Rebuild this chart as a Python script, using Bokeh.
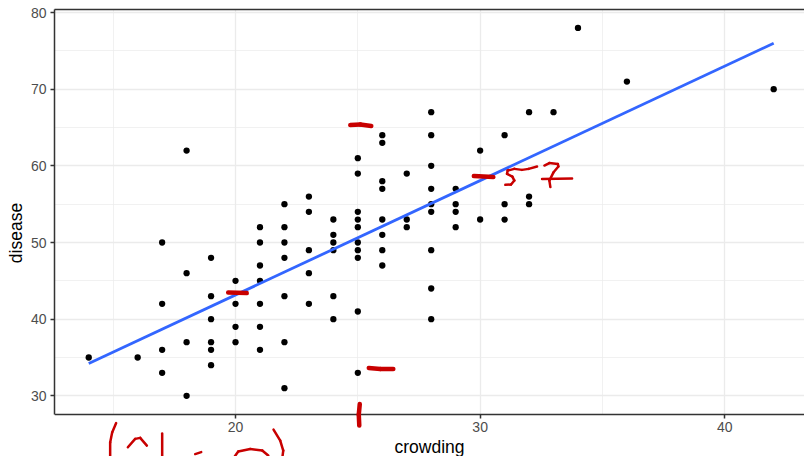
import numpy as np
from bokeh.plotting import figure
from bokeh.models import FixedTicker, LinearAxis, Range1d, Arrow, ColumnDataSource, BoxAnnotation
from bokeh.embed import file_html
from bokeh.resources import INLINE

# ---------------- data ----------------
crowding = [14,
            16,
            17, 17, 17, 17,
            18, 18, 18, 18,
            19, 19, 19, 19, 19, 19,
            20, 20, 20, 20,
            21, 21, 21, 21, 21, 21, 21,
            22, 22, 22, 22, 22, 22, 22,
            23, 23, 23, 23, 23,
            24, 24, 24, 24, 24, 24,
            25, 25, 25, 25, 25, 25, 25, 25, 25, 25,
            26, 26, 26, 26, 26, 26, 26, 26,
            27, 27, 27,
            28, 28, 28, 28, 28, 28, 28, 28, 28,
            29, 29, 29, 29,
            30, 30,
            31, 31, 31,
            32, 32, 32,
            33,
            34,
            36,
            42]
disease = [35,
           35,
           50, 42, 36, 33,
           62, 46, 37, 30,
           48, 43, 40, 37, 36, 34,
           45, 42, 39, 37,
           52, 50, 47, 45, 42, 39, 36,
           55, 52, 50, 48, 43, 37, 31,
           56, 54, 49, 46, 42,
           53, 51, 50, 49, 43, 40,
           61, 59, 54, 53, 52, 50, 49, 48, 41, 33,
           64, 63, 58, 57, 53, 51, 49, 47,
           59, 53, 52,
           67, 64, 60, 57, 55, 54, 49, 44, 40,
           57, 55, 54, 52,
           62, 53,
           64, 55, 53,
           67, 56, 55,
           67,
           78,
           71,
           70]

x_ticks = [20, 30, 40]
x_minor = [15, 25, 35]
y_ticks = [30, 40, 50, 60, 70, 80]
y_minor = [35, 45, 55, 65, 75]

# hand-drawn red pen marks on the reference (reference pixel positions)
pen_thick = [
    [(350, 124.5), (360, 124), (371, 125.5)],
    [(228, 292), (246.5, 292.5)],
    [(473.5, 175.5), (493, 176.5)],
    [(368.5, 367.5), (380, 368.5), (393, 368.5)],
    [(359.5, 403.5), (358.5, 414), (359, 425)],
]
pen_thin = [
    [(505, 184.3), (510.7, 184), (514, 180), (512, 176), (506.7, 173.3),
     (507.3, 170), (514, 168.3), (521.7, 169.3), (528.3, 168.3), (536.7, 166)],
    [(544, 165), (549, 162.5), (557.5, 163.5), (558, 166), (553, 172),
     (549, 180), (550, 186.5)],
    [(541.7, 178.5), (571.7, 178)],
    [(116, 422.5), (112, 432), (110, 442), (110, 458)],
    [(127.7, 446.7), (135, 438.3), (140, 437.3), (146.7, 445)],
    [(162, 433), (162, 458)],
    [(195, 453.5), (201, 451.5)],
    [(233, 458), (238, 451), (250, 448.5), (262, 450), (268, 455)],
    [(273.3, 429), (280, 440), (283, 450), (282, 458)],
]

# ---------------- figure ----------------
x = np.array(crowding, dtype=float)
y = np.array(disease, dtype=float)

X_LO, X_HI = 12.6, 43.26       # panel cropped at the right edge, as in the reference
Y_LO, Y_HI = 27.6, 80.4        # panel limits
Y_VIEW_LO = Y_HI - 447 / 7.665  # the frame runs on below the axis, down to the page edge

p = figure(width=804, height=456, output_backend="svg", toolbar_location=None,
           x_range=Range1d(X_LO, X_HI), y_range=Range1d(Y_VIEW_LO, Y_HI),
           min_border_left=54, min_border_right=0, min_border_top=9,
           min_border_bottom=0)
p.background_fill_color = "white"
p.border_fill_color = "white"
p.outline_line_color = None

FONT = "Liberation Sans"
for ax in (p.xaxis[0], p.yaxis[0]):
    ax.axis_line_color = "#333333"
    ax.axis_line_width = 1.5
    ax.major_tick_line_color = "#333333"
    ax.major_tick_line_width = 1.5
    ax.major_tick_out = 4
    ax.major_tick_in = 0
    ax.minor_tick_out = 0
    ax.minor_tick_in = 0
    ax.major_label_text_font = FONT
    ax.major_label_text_font_size = "14px"
    ax.major_label_text_color = "#4D4D4D"
    ax.axis_label_text_font = FONT
    ax.axis_label_text_font_size = "17.5px"
    ax.axis_label_text_font_style = "normal"
    ax.axis_label_text_color = "black"

p.xaxis[0].ticker = FixedTicker(ticks=x_ticks, minor_ticks=x_minor)
p.yaxis[0].ticker = FixedTicker(ticks=y_ticks, minor_ticks=y_minor)
p.xaxis[0].axis_label = "crowding"
p.yaxis[0].axis_label = "disease"
p.xaxis[0].fixed_location = Y_LO
p.xaxis[0].major_label_standoff = 4
p.xaxis[0].axis_label_standoff = 1
p.yaxis[0].bounds = (Y_LO, Y_HI)
p.yaxis[0].major_label_standoff = 4
p.yaxis[0].axis_label_standoff = 2

top = LinearAxis(ticker=FixedTicker(ticks=[]), major_label_text_font_size="0px",
                 major_tick_out=0, major_tick_in=0, minor_tick_out=0, minor_tick_in=0,
                 major_label_standoff=0, axis_label_standoff=0,
                 axis_line_color="#333333", axis_line_width=1.5)
p.add_layout(top, "above")

for g in (p.xgrid[0], p.ygrid[0]):
    g.grid_line_color = "#EBEBEB"
    g.grid_line_width = 1.3
    g.minor_grid_line_color = "#EBEBEB"
    g.minor_grid_line_width = 0.7

# white cover for the area below the panel
p.add_layout(BoxAnnotation(top=Y_LO, fill_color="white", fill_alpha=1.0,
                           line_color=None, level="underlay"))

p.scatter(x, y, size=6.3, fill_color="black", line_color=None)

slope, intercept = np.polyfit(x, y, 1)
xs = np.array([x.min(), x.max()])
p.line(xs, intercept + slope * xs, line_color="#3366FF", line_width=2.8)

# pen marks: convert reference pixels to data units
def to_data(px, py):
    return 20 + (px - 235.3) / 24.45, 80 - (py - 12) / 7.665

def add_pen(strokes, width):
    d = dict(x0=[], y0=[], x1=[], y1=[])
    for s in strokes:
        for a, b in zip(s[:-1], s[1:]):
            xa, ya = to_data(*a)
            xb, yb = to_data(*b)
            d["x0"].append(xa); d["y0"].append(ya)
            d["x1"].append(xb); d["y1"].append(yb)
    src = ColumnDataSource(d)
    p.add_layout(Arrow(end=None, source=src, x_start="x0", y_start="y0",
                       x_end="x1", y_end="y1", line_color="#C80000",
                       line_width=width, line_cap="round", line_join="round"))

add_pen(pen_thick, 4.5)
add_pen(pen_thin, 2.5)

open("out.html", "w").write(file_html(p, INLINE))
